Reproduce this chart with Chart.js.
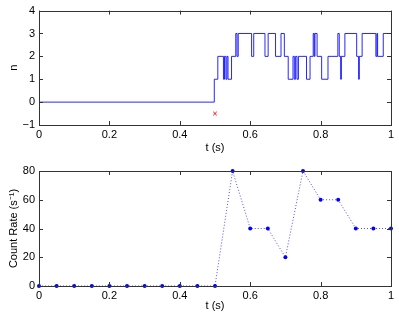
<!DOCTYPE html>
<html><head><meta charset="utf-8">
<script src="https://cdn.jsdelivr.net/npm/chart.js@4.4.0/dist/chart.umd.min.js"></script>
<style>
html,body{margin:0;padding:0;background:#fff;}
#top{position:absolute;left:0;top:0;width:399px;height:160px;}
#bot{position:absolute;left:0;top:160px;width:399px;height:157px;}
</style></head><body>
<div id="top"><canvas id="c1"></canvas></div>
<div id="bot"><canvas id="c2"></canvas></div>
<script>
// ---- data ----
const stepTimes  = [0, 0.498, 0.508, 0.524, 0.527, 0.531, 0.534, 0.537, 0.547, 0.559, 0.5625, 0.566, 0.604, 0.610, 0.642, 0.651, 0.672, 0.6875, 0.697, 0.708, 0.7216, 0.7254, 0.729, 0.733, 0.737, 0.760, 0.770, 0.779, 0.782, 0.784, 0.790, 0.803, 0.821, 0.849, 0.853, 0.857, 0.859, 0.869, 0.9025, 0.908, 0.910, 0.918, 0.957, 0.960, 0.962, 0.978, 1.0];
const stepLevels = [0, 1, 2, 1, 2, 1, 2, 1, 2, 3, 2, 3, 2, 3, 2, 3, 2, 3, 2, 1, 2, 1, 2, 1, 2, 1, 2, 3, 2, 3, 2, 1, 2, 3, 2, 1, 2, 3, 2, 1, 2, 3, 2, 3, 2, 3, 3];
const markerT = [0.5];
const markerN = [-0.5];
const rateTimes  = [0, 0.05, 0.1, 0.15, 0.2, 0.25, 0.3, 0.35, 0.4, 0.45, 0.5, 0.55, 0.6, 0.65, 0.7, 0.75, 0.8, 0.85, 0.9, 0.95, 1.0];
const rateValues = [0, 0, 0, 0, 0, 0, 0, 0, 0, 0, 0, 80, 40, 40, 20, 80, 60, 60, 40, 40, 40];
const xTicks = [0, 0.2, 0.4, 0.6, 0.8, 1];
const nTicks = [-1, 0, 1, 2, 3, 4];
const rateTicks = [0, 20, 40, 60, 80];

Chart.defaults.font.family = '"Liberation Sans", Arial, Helvetica, sans-serif';
Chart.defaults.font.size = 11;
Chart.defaults.color = '#000';

const fmt = v => (v < 0 ? '\u2212' + Math.abs(v) : String(v));

const boxPlugin = {
  id: 'box',
  afterDraw(chart) {
    const {ctx, chartArea: a, scales} = chart;
    const L = 4;
    ctx.save();
    ctx.strokeStyle = '#333';
    ctx.lineWidth = 1;
    ctx.beginPath();
    scales.x.ticks.forEach(t => {
      const px = Math.round(scales.x.getPixelForValue(t.value)) + 0.5;
      ctx.moveTo(px, a.bottom); ctx.lineTo(px, a.bottom - L);
      ctx.moveTo(px, a.top); ctx.lineTo(px, a.top + L);
    });
    scales.y.ticks.forEach(t => {
      const py = Math.round(scales.y.getPixelForValue(t.value)) + 0.5;
      ctx.moveTo(a.left, py); ctx.lineTo(a.left + L, py);
      ctx.moveTo(a.right, py); ctx.lineTo(a.right - L, py);
    });
    ctx.stroke();
    ctx.strokeRect(Math.round(a.left) + 0.5, Math.round(a.top) + 0.5,
                   Math.round(a.right - a.left), Math.round(a.bottom - a.top));
    ctx.restore();
  }
};

function axes(yTicks, yMin, yMax, yTitle, xHeight, titleTopPad, xTitlePad) {
  return {
    x: {
      type: 'linear', min: 0, max: 1,
      afterBuildTicks: s => { s.ticks = xTicks.map(v => ({value: v})); },
      afterFit: s => { s.height = xHeight; },
      grid: {display: false, drawTicks: false},
      border: {display: false},
      ticks: {padding: 3, callback: fmt, maxRotation: 0},
      title: {display: true, text: 't (s)', padding: {top: 0, bottom: xTitlePad}}
    },
    y: {
      type: 'linear', min: yMin, max: yMax,
      afterBuildTicks: s => { s.ticks = yTicks.map(v => ({value: v})); },
      afterFit: s => { s.width = 39; },
      grid: {display: false, drawTicks: false},
      border: {display: false},
      ticks: {padding: 4, callback: fmt},
      title: {display: true, text: yTitle, padding: {top: titleTopPad, bottom: 0}}
    }
  };
}

new Chart(document.getElementById('c1'), {
  type: 'line',
  data: {
    datasets: [
      {
        data: stepTimes.map((t, i) => ({x: t, y: stepLevels[i]})),
        borderColor: 'rgba(0,0,255,0.85)', borderWidth: 1,
        stepped: 'before', pointRadius: 0, fill: false
      },
      {
        type: 'scatter',
        data: markerT.map((t, i) => ({x: t, y: markerN[i]})),
        pointStyle: 'crossRot', pointRadius: 2.5, borderColor: '#ff0000',
        borderWidth: 1, showLine: false
      }
    ]
  },
  options: {
    responsive: true, maintainAspectRatio: false, animation: false,
    layout: {padding: {top: 9, right: 8, left: 0, bottom: 0}},
    plugins: {legend: {display: false}, tooltip: {enabled: false}},
    scales: axes(nTicks, -1, 4, 'n', 35, 7, 5)
  },
  plugins: [boxPlugin]
});

new Chart(document.getElementById('c2'), {
  type: 'line',
  data: {
    datasets: [{
      data: rateTimes.map((t, i) => ({x: t, y: rateValues[i]})),
      borderColor: 'rgba(0,0,255,0.7)', borderWidth: 1, borderDash: [1, 2],
      pointStyle: 'circle', pointRadius: 2, pointBackgroundColor: '#0000ff',
      pointBorderColor: '#0000ff', pointBorderWidth: 0, fill: false, clip: 4
    }]
  },
  options: {
    responsive: true, maintainAspectRatio: false, animation: false,
    layout: {padding: {top: 11, right: 8, left: 0, bottom: 0}},
    plugins: {legend: {display: false}, tooltip: {enabled: false}},
    scales: axes(rateTicks, 0, 80, 'Count Rate (s\u207B\u00B9)', 31, 7, 4)
  },
  plugins: [boxPlugin]
});
</script>
</body></html>
